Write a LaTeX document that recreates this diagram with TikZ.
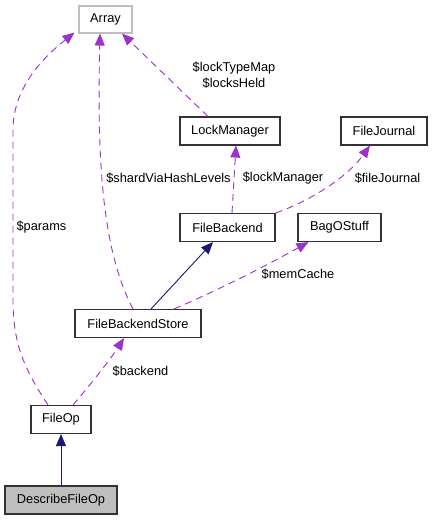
\documentclass[tikz,border=0pt]{standalone}
\usepackage{fontspec}
\setmainfont{Liberation Sans}
\usetikzlibrary{arrows.meta}
\definecolor{edgepurple}{HTML}{9A32CD}
\definecolor{edgenavy}{HTML}{191970}
\definecolor{grayborder}{HTML}{BFBFBF}
\definecolor{grayfill}{HTML}{BFBFBF}
\begin{document}
\begin{tikzpicture}[x=1pt,y=-1pt,
  every node/.style={font=\fontsize{12.8}{16}\selectfont, inner sep=0pt},
  cls/.style={draw=black!80, line width=1.1pt, fill=white, anchor=center},
  ext/.style={draw=grayborder, line width=1.1pt, fill=white},
  usage/.style={draw=edgepurple, line width=0.9pt, dash pattern=on 7pt off 5pt, -{Triangle[length=12pt,width=10pt,fill=edgepurple]}},
  inherit/.style={draw=edgenavy, line width=0.9pt, -{Triangle[length=12pt,width=10pt,fill=edgenavy]}},
  lbl/.style={text=black}
]
\useasboundingbox (0,0) rectangle (432,520);
\fill[white] (0,0) rectangle (432,520);

\node[ext, minimum width=53pt, minimum height=27pt] (Array) at (105.5,19.5) {Array};
\node[cls, minimum width=100pt, minimum height=28pt] (LockManager) at (230,131) {LockManager};
\node[cls, minimum width=86pt, minimum height=28pt] (FileJournal) at (384,131) {FileJournal};
\node[cls, minimum width=95pt, minimum height=28pt] (FileBackend) at (227.5,227.5) {FileBackend};
\node[cls, minimum width=83pt, minimum height=28pt] (BagOStuff) at (339.5,227.5) {BagOStuff};
\node[cls, minimum width=126pt, minimum height=28pt] (FileBackendStore) at (138,323.5) {FileBackendStore};
\node[cls, minimum width=60pt, minimum height=28pt] (FileOp) at (61,419.5) {FileOp};
\node[cls, fill=grayfill, minimum width=112pt, minimum height=28pt] (DescribeFileOp) at (61,500) {DescribeFileOp};

% edges
\draw[usage] ([xshift=-13pt]FileOp.north) .. controls (25,370) and (13,345) .. (13,300)
   -- (13,130) .. controls (13,90) and (40,60) .. ([xshift=-31pt,yshift=1pt]Array.south);
\draw[usage] ([xshift=-5pt]FileBackendStore.north) .. controls (102,250) and (97,160) .. ([xshift=-5.5pt]Array.south);
\draw[usage] ([xshift=-22pt]LockManager.north) -- ([xshift=16.5pt]Array.south);
\draw[usage] ([xshift=4.5pt]FileBackend.north) -- ([xshift=6pt]LockManager.south);
\draw[usage] (FileBackend.north east) .. controls (305,203) and (345,180) .. ([xshift=-14pt]FileJournal.south);
\draw[inherit] ([xshift=13pt]FileBackendStore.north) -- ([xshift=-14.5pt]FileBackend.south);
\draw[usage] ([xshift=36pt]FileBackendStore.north) .. controls (230,285) and (280,258) .. ([xshift=-31pt]BagOStuff.south);
\draw[usage] ([xshift=12pt]FileOp.north) .. controls (90,385) and (110,360) .. ([xshift=-14pt]FileBackendStore.south);
\draw[inherit] (DescribeFileOp.north) -- (FileOp.south);

% labels
\node[lbl, align=center] (lLT) at (234,75) {\$lockTypeMap\\\$locksHeld};
\node[lbl] (lSH) at (168.5,178) {\$shardViaHashLevels};
\node[lbl] (lLM) at (283,178) {\$lockManager};
\node[lbl] (lFJ) at (387.5,178) {\$fileJournal};
\node[lbl] (lPA) at (41.5,227) {\$params};
\node[lbl] (lMC) at (298,274) {\$memCache};
\node[lbl] (lBE) at (140.5,371) {\$backend};
\end{tikzpicture}
\end{document}
